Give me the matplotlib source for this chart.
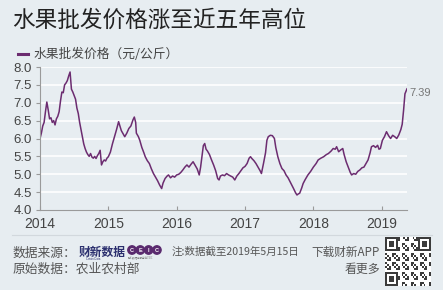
import matplotlib
matplotlib.use('Agg')
from matplotlib import pyplot as plt
from matplotlib.patches import Circle
import numpy as np

# Weekly fruit wholesale price (yuan/kg), decimal year
t = [2014.00, 2014.02, 2014.04, 2014.06, 2014.08, 2014.10, 2014.12, 2014.14, 2014.16, 2014.18,
     2014.20, 2014.22, 2014.24, 2014.26, 2014.28, 2014.30, 2014.32, 2014.34, 2014.36, 2014.38,
     2014.40, 2014.42, 2014.44, 2014.45, 2014.46, 2014.48, 2014.50, 2014.52, 2014.54, 2014.56,
     2014.58, 2014.60, 2014.62, 2014.64, 2014.66, 2014.68, 2014.70, 2014.72, 2014.74, 2014.76,
     2014.78, 2014.80, 2014.82, 2014.84, 2014.86, 2014.88, 2014.90, 2014.92, 2014.94, 2014.96,
     2014.98, 2015.00, 2015.03, 2015.06, 2015.09, 2015.12, 2015.15, 2015.17, 2015.19, 2015.21,
     2015.24, 2015.27, 2015.30, 2015.33, 2015.36, 2015.38, 2015.40, 2015.41, 2015.44, 2015.46,
     2015.49, 2015.52, 2015.54, 2015.57, 2015.60, 2015.63, 2015.66, 2015.69, 2015.72, 2015.75,
     2015.78, 2015.80, 2015.83, 2015.86, 2015.88, 2015.91, 2015.94, 2015.97, 2016.00, 2016.03,
     2016.06, 2016.09, 2016.12, 2016.15, 2016.18, 2016.21, 2016.24, 2016.27, 2016.30, 2016.33,
     2016.35, 2016.37, 2016.39, 2016.41, 2016.43, 2016.45, 2016.48, 2016.51, 2016.54, 2016.57,
     2016.60, 2016.62, 2016.64, 2016.67, 2016.70, 2016.73, 2016.76, 2016.79, 2016.82, 2016.85,
     2016.88, 2016.91, 2016.94, 2016.97, 2017.00, 2017.03, 2017.06, 2017.08, 2017.10, 2017.13,
     2017.16, 2017.19, 2017.22, 2017.24, 2017.27, 2017.30, 2017.32, 2017.34, 2017.37, 2017.40,
     2017.43, 2017.45, 2017.48, 2017.51, 2017.54, 2017.57, 2017.60, 2017.63, 2017.66, 2017.69,
     2017.71, 2017.74, 2017.76, 2017.78, 2017.80, 2017.83, 2017.85, 2017.88, 2017.92, 2017.96,
     2018.00, 2018.04, 2018.07, 2018.11, 2018.15, 2018.19, 2018.22, 2018.26, 2018.29, 2018.32,
     2018.34, 2018.37, 2018.40, 2018.43, 2018.45, 2018.48, 2018.51, 2018.54, 2018.56, 2018.59,
     2018.62, 2018.65, 2018.68, 2018.71, 2018.74, 2018.77, 2018.80, 2018.83, 2018.85, 2018.88,
     2018.91, 2018.94, 2018.96, 2018.98, 2019.01, 2019.04, 2019.07, 2019.10, 2019.13, 2019.16,
     2019.19, 2019.22, 2019.25, 2019.28, 2019.30, 2019.32, 2019.34, 2019.355, 2019.37]
price = [6.00, 6.15, 6.35, 6.45, 6.75, 7.02, 6.80, 6.55, 6.58, 6.45,
         6.50, 6.38, 6.55, 6.62, 6.75, 7.05, 7.30, 7.28, 7.50, 7.55,
         7.62, 7.75, 7.86, 7.60, 7.38, 7.30, 7.20, 7.10, 6.85, 6.70,
         6.45, 6.25, 6.05, 5.85, 5.72, 5.62, 5.55, 5.50, 5.58, 5.48,
         5.45, 5.50, 5.44, 5.52, 5.58, 5.67, 5.26, 5.35, 5.40, 5.37,
         5.45, 5.49, 5.62, 5.85, 6.05, 6.25, 6.47, 6.35, 6.22, 6.15,
         6.05, 6.15, 6.28, 6.35, 6.52, 6.60, 6.45, 6.15, 6.05, 5.95,
         5.75, 5.60, 5.49, 5.38, 5.30, 5.15, 5.02, 4.92, 4.82, 4.70,
         4.60, 4.75, 4.88, 4.95, 4.98, 4.90, 4.95, 4.92, 4.98, 5.00,
         5.05, 5.12, 5.20, 5.26, 5.20, 5.28, 5.35, 5.25, 5.15, 4.98,
         5.20, 5.50, 5.80, 5.86, 5.70, 5.65, 5.55, 5.40, 5.26, 5.10,
         4.88, 4.84, 4.95, 4.98, 4.96, 5.02, 4.98, 4.95, 4.92, 4.84,
         4.95, 5.02, 5.10, 5.18, 5.22, 5.30, 5.45, 5.49, 5.44, 5.38,
         5.30, 5.20, 5.10, 5.02, 5.30, 5.60, 5.95, 6.05, 6.09, 6.08,
         6.00, 5.75, 5.49, 5.30, 5.16, 5.10, 4.98, 4.90, 4.79, 4.68,
         4.60, 4.48, 4.42, 4.45, 4.47, 4.62, 4.74, 4.85, 4.98, 5.08,
         5.20, 5.30, 5.40, 5.45, 5.49, 5.55, 5.58, 5.65, 5.72, 5.70,
         5.77, 5.63, 5.68, 5.72, 5.55, 5.35, 5.20, 5.05, 4.98, 5.02,
         5.00, 5.08, 5.12, 5.18, 5.20, 5.30, 5.40, 5.60, 5.77, 5.80,
         5.75, 5.81, 5.70, 5.72, 5.95, 6.05, 6.19, 6.08, 6.00, 6.09,
         6.05, 6.00, 6.10, 6.25, 6.40, 6.79, 7.25, 7.32, 7.39]

years = [2014, 2015, 2016, 2017, 2018, 2019]
yticks = [4.0, 4.5, 5.0, 5.5, 6.0, 6.5, 7.0, 7.5, 8.0]

bg = '#e7edf1'
purple = '#6c2c70'
cjk = ['Noto Sans CJK SC', 'DejaVu Sans']
lat = ['Liberation Sans', 'Noto Sans CJK SC']

fig = plt.figure(figsize=(4.43, 2.90), dpi=100)
fig.patch.set_facecolor(bg)

ax = fig.add_axes([40 / 443, 1 - 210 / 290, 367 / 443, 143 / 290])
ax.set_facecolor(bg)
ax.plot(t, price, color=purple, lw=1.1)
ax.set_xlim(2014, 2019.37)
ax.set_ylim(4, 8)
ax.set_yticks(yticks)
ax.set_yticklabels(['%.1f' % v for v in yticks], family=lat, fontsize=9.5, color='#444444')
ax.set_xticks(years)
ax.set_xticklabels([str(y) for y in years], family=lat, fontsize=10, color='#444444')
for v in yticks[1:]:
    ax.axhline(v, color='white', lw=1.2, zorder=0)
for s in ['top', 'right']:
    ax.spines[s].set_visible(False)
for s in ['left', 'bottom']:
    ax.spines[s].set_color('#9a9a9a')
    ax.spines[s].set_linewidth(0.8)
ax.tick_params(axis='x', direction='in', length=3, color='#9a9a9a', pad=5)
ax.tick_params(axis='y', direction='out', length=3, color='#9a9a9a', pad=3)
ax.annotate('%.2f' % price[-1], (t[-1], price[-1]), xytext=(2, -3), textcoords='offset points',
            family=lat, fontsize=8, color='#777777', va='center', ha='left', annotation_clip=False)

# Title and legend
fig.text(12 / 443, 1 - 20 / 290, '水果批发价格涨至近五年高位', family=cjk, fontsize=16.3,
         color='#222222', va='center', ha='left')
fig.add_artist(plt.Line2D([18 / 443, 28 / 443], [1 - 54 / 290, 1 - 54 / 290], color=purple, lw=2.2))
fig.text(34 / 443, 1 - 54 / 290, '水果批发价格（元/公斤）', family=cjk, fontsize=9.2,
         color='#444444', va='center', ha='left')

# Footer
fig.add_artist(plt.Line2D([12 / 443, 432 / 443], [1 - 235 / 290, 1 - 235 / 290], color='#d2d8dd', lw=0.8))
gray = '#555555'
fig.text(13 / 443, 1 - 253 / 290, '数据来源：', family=cjk, fontsize=9.2, color=gray, va='center')
fig.text(79 / 443, 1 - 252 / 290, '财新数据', family=cjk, fontsize=8.5, color='#2b2f6e',
         weight='bold', va='center')
fig.text(86 / 443, 1 - 259 / 290, 'Caixin Data', family=lat, fontsize=2, color='#2b2f6e', va='center')
ax2 = fig.add_axes([0, 0, 1, 1], facecolor='none')
ax2.set_xlim(0, 443)
ax2.set_ylim(290, 0)
ax2.axis('off')
for i, ch in enumerate('CEIC'):
    cx = 132 + i * 8.3
    ax2.add_patch(Circle((cx, 250), 4.2, color='#5a2a6e'))
    ax2.text(cx, 250.3, ch, fontsize=4, color='white', ha='center', va='center', family=lat, weight='bold')
ax2.text(128, 257, '联系数据库服务商CEIC', fontsize=1.8, color='#777777', va='center', family=cjk)
fig.text(172 / 443, 1 - 252 / 290, '注:数据截至2019年5月15日', family=cjk, fontsize=7.6, color=gray, va='center')
fig.text(311 / 443, 1 - 252 / 290, '下载财新APP', family=cjk, fontsize=8.4, color=gray, va='center')
fig.text(13 / 443, 1 - 269 / 290, '原始数据：农业农村部', family=cjk, fontsize=9.2, color=gray, va='center')
fig.text(345 / 443, 1 - 269 / 290, '看更多', family=cjk, fontsize=8.6, color=gray, va='center')

# QR code (decorative pattern)
n = 25
qr = np.zeros((n, n))
for i in range(n):
    for j in range(n):
        qr[i, j] = ((i * 7 + j * 3 + i * j) % 5) < 2
for (r, c) in [(0, 0), (0, n - 7), (n - 7, 0)]:
    qr[r:r + 7, c:c + 7] = 1
    qr[r + 1:r + 6, c + 1:c + 6] = 0
    qr[r + 2:r + 5, c + 2:c + 5] = 1
axq = fig.add_axes([385 / 443, 1 - 286 / 290, 46 / 443, 49 / 290])
axq.imshow(qr, cmap='gray_r', interpolation='nearest', aspect='auto', vmin=0, vmax=1.3)
axq.axis('off')

fig.savefig('out.png', dpi=100, facecolor=bg)
